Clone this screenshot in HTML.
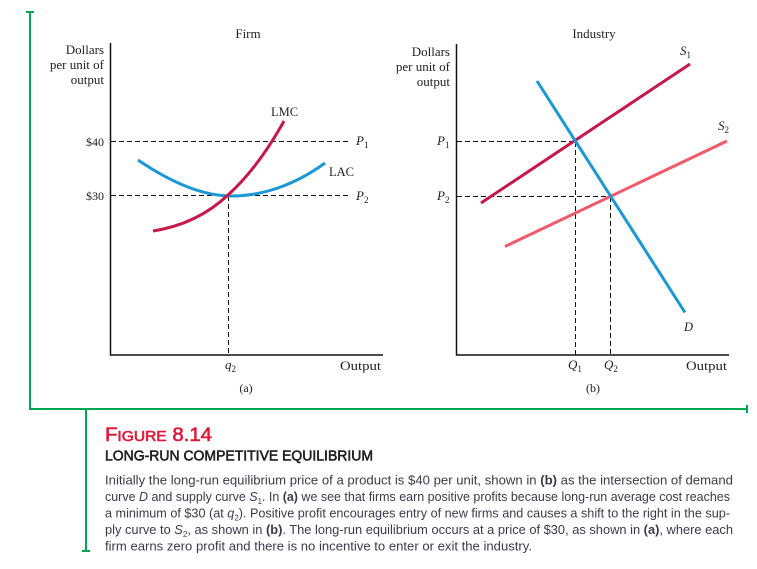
<!DOCTYPE html>
<html>
<head>
<meta charset="utf-8">
<style>
  html, body { margin: 0; padding: 0; background: #fff; }
  svg { display: block; }
  .serif { font-family: "Liberation Serif", serif; fill: #222; }
  .sans { font-family: "Liberation Sans", sans-serif; }
</style>
</head>
<body>
<svg width="757" height="569" viewBox="0 0 757 569" xmlns="http://www.w3.org/2000/svg">
  <!-- green frame -->
  <g stroke="#00a651" stroke-width="2" fill="none">
    <line x1="30" y1="12" x2="30" y2="409"/>
    <line x1="26" y1="12" x2="34" y2="12"/>
    <line x1="29" y1="409" x2="747" y2="409"/>
    <line x1="747" y1="405" x2="747" y2="413"/>
    <line x1="86" y1="409" x2="86" y2="551"/>
    <line x1="82" y1="551" x2="90" y2="551"/>
  </g>

  <!-- ===== Firm panel ===== -->
  <text class="serif" x="248" y="38" font-size="13" text-anchor="middle">Firm</text>
  <text class="serif" x="104" y="54" font-size="13" text-anchor="end">Dollars</text>
  <text class="serif" x="104" y="69" font-size="13" text-anchor="end">per unit of</text>
  <text class="serif" x="104" y="84" font-size="13" text-anchor="end">output</text>

  <!-- dashed lines -->
  <g stroke="#111" stroke-width="1" stroke-dasharray="5,3" fill="none">
    <line x1="111" y1="141.5" x2="350" y2="141.5"/>
    <line x1="111" y1="195.5" x2="350" y2="195.5"/>
    <line x1="228.5" y1="196" x2="228.5" y2="355"/>
  </g>

  <!-- axes -->
  <g stroke="#111" stroke-width="1.5" fill="none">
    <line x1="110.5" y1="43" x2="110.5" y2="355.5"/>
    <line x1="110" y1="355" x2="383" y2="355"/>
  </g>

  <!-- LAC -->
  <path d="M138,160 C175,185 205,196 232,196 C262,196 295,185 325,163" stroke="#1a98d5" stroke-width="3" fill="none"/>
  <!-- LMC -->
  <path d="M153,231 C185,226 210,212 228,195 C250,175 268,150 284,121" stroke="#c8174a" stroke-width="3" fill="none"/>

  <text class="serif" x="104" y="146" font-size="12" text-anchor="end">$40</text>
  <text class="serif" x="104" y="200" font-size="12" text-anchor="end">$30</text>
  <text class="serif" x="271" y="116" font-size="12.5">LMC</text>
  <text class="serif" x="329" y="176" font-size="12.5">LAC</text>
  <text class="serif" x="356" y="145" font-size="13" font-style="italic">P<tspan font-size="9" font-style="normal" dy="3">1</tspan></text>
  <text class="serif" x="356" y="200" font-size="13" font-style="italic">P<tspan font-size="9" font-style="normal" dy="3">2</tspan></text>

  <text class="serif" x="225" y="369" font-size="13" font-style="italic">q<tspan font-size="9" font-style="normal" dy="3">2</tspan></text>
  <text class="serif" x="246" y="392" font-size="12" text-anchor="middle">(a)</text>
  <text class="serif" x="340" y="370" font-size="13" textLength="41" lengthAdjust="spacingAndGlyphs">Output</text>

  <!-- ===== Industry panel ===== -->
  <text class="serif" x="594" y="38" font-size="13" text-anchor="middle">Industry</text>
  <text class="serif" x="450" y="56" font-size="13" text-anchor="end">Dollars</text>
  <text class="serif" x="450" y="71" font-size="13" text-anchor="end">per unit of</text>
  <text class="serif" x="450" y="86" font-size="13" text-anchor="end">output</text>

  <g stroke="#111" stroke-width="1" stroke-dasharray="5,3" fill="none">
    <line x1="457" y1="141.5" x2="575" y2="141.5"/>
    <line x1="457" y1="196.5" x2="610" y2="196.5"/>
    <line x1="575.5" y1="142" x2="575.5" y2="355"/>
    <line x1="610.5" y1="197" x2="610.5" y2="355"/>
  </g>

  <g stroke="#111" stroke-width="1.5" fill="none">
    <line x1="456.5" y1="44" x2="456.5" y2="355.5"/>
    <line x1="456" y1="355" x2="729" y2="355"/>
  </g>

  <!-- S2 -->
  <line x1="505" y1="246.5" x2="727" y2="141" stroke="#f05a6a" stroke-width="3"/>
  <!-- S1 -->
  <line x1="481" y1="203" x2="690" y2="64" stroke="#c8174a" stroke-width="3"/>
  <!-- D -->
  <line x1="537" y1="81" x2="685" y2="312.5" stroke="#1a98d5" stroke-width="3"/>

  <text class="serif" x="437" y="145" font-size="13" font-style="italic">P<tspan font-size="9" font-style="normal" dy="3">1</tspan></text>
  <text class="serif" x="437" y="200" font-size="13" font-style="italic">P<tspan font-size="9" font-style="normal" dy="3">2</tspan></text>
  <text class="serif" x="680" y="55" font-size="13" font-style="italic">S<tspan font-size="9" font-style="normal" dy="3">1</tspan></text>
  <text class="serif" x="718" y="130" font-size="13" font-style="italic">S<tspan font-size="9" font-style="normal" dy="3">2</tspan></text>
  <text class="serif" x="684" y="331" font-size="12.5" font-style="italic">D</text>

  <text class="serif" x="568" y="369" font-size="13" font-style="italic">Q<tspan font-size="9" font-style="normal" dy="3">1</tspan></text>
  <text class="serif" x="604" y="369" font-size="13" font-style="italic">Q<tspan font-size="9" font-style="normal" dy="3">2</tspan></text>
  <text class="serif" x="593" y="392" font-size="12" text-anchor="middle">(b)</text>
  <text class="serif" x="686" y="370" font-size="13" textLength="41" lengthAdjust="spacingAndGlyphs">Output</text>

  <!-- ===== Caption ===== -->
  <text class="sans" x="105" y="441" fill="#e3173a" stroke="#e3173a" stroke-width="0.6" font-size="19" textLength="107" lengthAdjust="spacingAndGlyphs">F<tspan font-size="14.5">IGURE</tspan> 8.14</text>
  <text class="sans" x="105" y="460.5" fill="#231f20" stroke="#231f20" stroke-width="0.6" font-size="14.5" textLength="268" lengthAdjust="spacingAndGlyphs">LONG-RUN COMPETITIVE EQUILIBRIUM</text>

  <g class="sans" fill="#3d3a4b" font-size="12.8">
    <text x="105" y="484.5" textLength="628" lengthAdjust="spacingAndGlyphs">Initially the long-run equilibrium price of a product is $40 per unit, shown in <tspan font-weight="bold">(b)</tspan> as the intersection of demand</text>
    <text x="105" y="501" textLength="625" lengthAdjust="spacingAndGlyphs">curve <tspan font-style="italic">D</tspan> and supply curve <tspan font-style="italic">S</tspan><tspan font-size="8" dy="3">1</tspan><tspan dy="-3">. In </tspan><tspan font-weight="bold">(a)</tspan> we see that firms earn positive profits because long-run average cost reaches</text>
    <text x="105" y="517.5" textLength="625" lengthAdjust="spacingAndGlyphs">a minimum of $30 (at <tspan font-style="italic">q</tspan><tspan font-size="8" dy="3">2</tspan><tspan dy="-3">). Positive profit encourages entry of new firms and causes a shift to the right in the sup-</tspan></text>
    <text x="105" y="534" textLength="628" lengthAdjust="spacingAndGlyphs">ply curve to <tspan font-style="italic">S</tspan><tspan font-size="8" dy="3">2</tspan><tspan dy="-3">, as shown in </tspan><tspan font-weight="bold">(b)</tspan>. The long-run equilibrium occurs at a price of $30, as shown in <tspan font-weight="bold">(a)</tspan>, where each</text>
    <text x="105" y="550.5" textLength="427" lengthAdjust="spacingAndGlyphs">firm earns zero profit and there is no incentive to enter or exit the industry.</text>
  </g>
</svg>
</body>
</html>
